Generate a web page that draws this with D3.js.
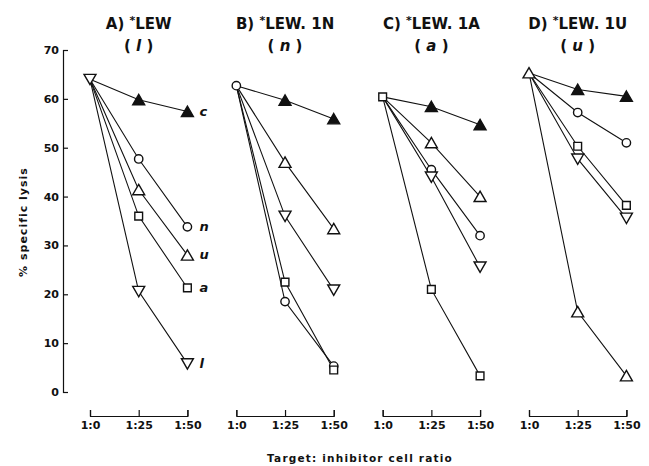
<!DOCTYPE html>
<html>
<head>
<meta charset="utf-8">
<script src="https://cdn.jsdelivr.net/npm/d3@7"></script>
<style>
  body { margin: 0; background: #fff; }
  text { font-family: "DejaVu Sans", sans-serif; fill: #111; }
</style>
</head>
<body>
<div id="vis"></div>
<script>
// ratios on the x axis, panels and their inhibitor strain
var ratios = ["1:0", "1:25", "1:50"];
var panelTitles = ["A) ", "B) ", "C) ", "D) "];
var panelStrains = ["LEW", "LEW. 1N", "LEW. 1A", "LEW. 1U"];
var panelSubs = ["l", "n", "a", "u"];
var yTicks = [0, 10, 20, 30, 40, 50, 60, 70];

// series keys (c = control) and symbol for each
var seriesKeys = ["c", "n", "a", "u", "l"];
var startValues = [64, 62.7, 60.4, 65.3];

// % specific lysis at 1:25 and 1:50, in seriesKeys order
var lysisA = [[59.8, 57.4], [47.7, 33.8], [36, 21.3], [41.4, 28], [20.6, 5.8]];
var lysisB = [[59.7, 55.9], [18.5, 5.3], [22.5, 4.5], [47, 33.4], [36, 20.9]];
var lysisC = [[58.4, 54.7], [45.5, 32], [21, 3.3], [51, 40], [44, 25.6]];
var lysisD = [[61.9, 60.5], [57.2, 51], [50.3, 38.2], [16.4, 3.3], [47.7, 35.6]];
var lysis = [lysisA, lysisB, lysisC, lysisD];

var width = 649, height = 466;

var svg = d3.select('#vis').append('svg')
  .attr('width', width)
  .attr('height', height);

var y = d3.scaleLinear().domain([0, 70]).range([392, 50]);

// panel origins (x of 1:0), then ratio within the panel
var panelX = d3.scaleLinear().domain([0, 3]).range([90, 529]);
var x = d3.scaleLinear().domain([0, 2]).range([0, 97.4]);

// y axis
var yAxis = svg.append('g')
  .attr('transform', 'translate(63,0)')
  .call(d3.axisLeft(y).tickValues(yTicks).tickSize(-5).tickSizeOuter(-5).tickPadding(4));
yAxis.selectAll('text').style('font-size', '11px').style('font-weight', 'bold');
yAxis.selectAll('path, line').attr('stroke', '#111').attr('stroke-width', 1.2);

svg.append('text')
  .attr('transform', 'translate(27,222) rotate(-90)')
  .attr('text-anchor', 'middle')
  .style('font-size', '11px')
  .style('font-weight', 'bold')
  .style('letter-spacing', '1px')
  .text('% specific lysis');

svg.append('text')
  .attr('x', 360)
  .attr('y', 462)
  .attr('text-anchor', 'middle')
  .style('font-size', '10.5px')
  .style('font-weight', 'bold')
  .style('letter-spacing', '1.2px')
  .text('Target: inhibitor cell ratio');

function symbolFor(key) {
  if (key === 'c' || key === 'u') return d3.symbolTriangle;
  if (key === 'n') return d3.symbolCircle;
  if (key === 'a') return d3.symbolSquare;
  return d3.symbolTriangle;
}

function drawMarker(g, key, px, py) {
  var size = key === 'n' ? 55 : (key === 'a' ? 60 : 62);
  var rot = key === 'l' ? 180 : 0;
  var dy = key === 'l' ? -1.5 : (key === 'c' || key === 'u' ? 1.5 : 0);
  g.append('path')
    .attr('d', d3.symbol().type(symbolFor(key)).size(size))
    .attr('transform', 'translate(' + px + ',' + (py + dy) + ') rotate(' + rot + ')')
    .attr('fill', key === 'c' ? '#111' : '#fff')
    .attr('stroke', '#111')
    .attr('stroke-width', 1.4);
}

panelTitles.forEach(function(title, p) {
  var g = svg.append('g').attr('transform', 'translate(' + panelX(p) + ',0)');

  // x axis, ticks pointing up
  var xAxis = g.append('g')
    .attr('transform', 'translate(0,416)')
    .call(d3.axisBottom(x).tickValues([0, 1, 2]).tickSize(-6).tickSizeOuter(-6).tickPadding(5)
      .tickFormat(function(d) { return ratios[d]; }));
  xAxis.selectAll('text').style('font-size', '11px').style('font-weight', 'bold');
  xAxis.selectAll('path, line').attr('stroke', '#111').attr('stroke-width', 1.2);

  // titles
  var t = g.append('text')
    .attr('x', x(1))
    .attr('y', 29)
    .attr('text-anchor', 'middle')
    .style('font-size', '15px')
    .style('font-weight', 'bold');
  t.append('tspan').text(title);
  t.append('tspan').attr('dy', -5).style('font-size', '11px').text('*');
  t.append('tspan').attr('dy', 5).text(panelStrains[p]);

  var s = g.append('text')
    .attr('x', x(1))
    .attr('y', 51)
    .attr('text-anchor', 'middle')
    .style('font-size', '15px')
    .style('font-weight', 'bold');
  s.append('tspan').text('( ');
  s.append('tspan').style('font-style', 'italic').text(panelSubs[p]);
  s.append('tspan').text(' )');

  // lines from the shared starting point
  var line = d3.line()
    .x(function(d) { return x(d[0]); })
    .y(function(d) { return y(d[1]); });

  lysis[p].forEach(function(vals, i) {
    var pts = [[0, startValues[p]], [1, vals[0]], [2, vals[1]]];
    g.append('path')
      .attr('d', line(pts))
      .attr('fill', 'none')
      .attr('stroke', '#111')
      .attr('stroke-width', 1.1);
  });

  lysis[p].forEach(function(vals, i) {
    drawMarker(g, seriesKeys[i], x(1), y(vals[0]));
    drawMarker(g, seriesKeys[i], x(2), y(vals[1]));
    if (p === 0) {
      g.append('text')
        .attr('x', x(2) + 12)
        .attr('y', y(vals[1]) + 4)
        .style('font-size', '13px')
        .style('font-style', 'italic')
        .style('font-weight', 'bold')
        .text(seriesKeys[i]);
    }
  });

  drawMarker(g, panelSubs[p], x(0), y(startValues[p]));
});
</script>
</body>
</html>
